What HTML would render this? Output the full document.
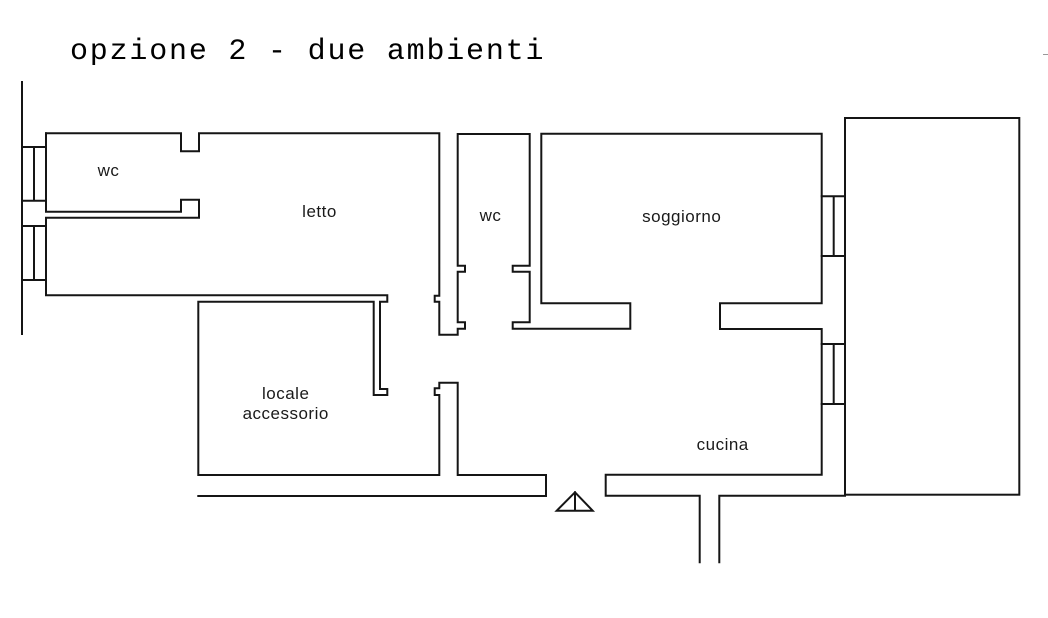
<!DOCTYPE html>
<html>
<head>
<meta charset="utf-8">
<style>
  html, body { margin: 0; padding: 0; background: #fff; }
  body { width: 1048px; height: 618px; overflow: hidden; }
  svg { display: block; }
  .w { fill: none; stroke: #151515; stroke-width: 2; stroke-linejoin: miter; stroke-linecap: square; }
  .lbl { font-family: "Liberation Sans", sans-serif; font-size: 17px; fill: #1a1a1a; text-anchor: middle; letter-spacing: 0.5px; }
  .title { font-family: "Liberation Mono", monospace; font-size: 30px; fill: #000; letter-spacing: 1.8px; }
</style>
</head>
<body>
<svg width="1048" height="618" viewBox="0 0 1048 618" xmlns="http://www.w3.org/2000/svg">
  <rect x="0" y="0" width="1048" height="618" fill="#fff"/>

  <text class="title" x="70" y="59">opzione 2 - due ambienti</text>

  <!-- small mark top right -->
  <line x1="1043" y1="54.5" x2="1048" y2="54.5" stroke="#999" stroke-width="1"/>

  <!-- left exterior line -->
  <path class="w" d="M22,82 V334"/>

  <!-- left windows -->
  <path class="w" d="M22,147 H46 M22,200.7 H46 M34,147 V200.7"/>
  <path class="w" d="M22,226 H46 M22,280 H46 M34,226 V280"/>

  <!-- wc / letto / locale accessorio outline -->
  <path class="w" d="M46,133.3 V211.7 H181 V199.7 H199 V217.7 H46 V295.3 H387.3 V301.7 H380 V389 H387.3 V395 H373.7 V301.7 H198.3 V475 H439.3 V395 H434.7 V388.3 H439.3 V382.7 H457.7 V475 H546 V496 H198.3"/>

  <!-- top walls, wc, soggiorno, cucina -->
  <path class="w" d="M46,133.3 H181 V151.3 H199 V133.3 H439.3 V295.7 H434.7 V301.7 H439.3 V334.7 H457.7 V328.7 H465 V322.3 H457.7 V271.7 H465 V265.7 H457.7 V134 H529.7 V265.7 H512.7 V271.7 H529.7 V322.3 H512.7 V328.7 H630.3 V303.3 H541.3 V133.7 H821.7 V303.3 H720 V329 H821.7 V474.7 H605.7 V495.7 H699.7 V562.3"/>
  <path class="w" d="M719.3,562.3 V495.7 H845"/>

  <!-- right windows -->
  <path class="w" d="M821.7,196.3 H845 M821.7,256 H845 M833.7,196.3 V256"/>
  <path class="w" d="M821.7,344 H845 M821.7,404 H845 M833.7,344 V404"/>

  <!-- big right rectangle -->
  <rect class="w" x="845" y="118" width="174.3" height="376.7"/>

  <!-- entrance marker -->
  <path class="w" d="M556.7,510.7 H592.7 L575,492.3 Z M575,492.3 V510.7" stroke-linecap="butt"/>

  <!-- labels -->
  <text class="lbl" x="108.5" y="176">wc</text>
  <text class="lbl" x="319.5" y="217">letto</text>
  <text class="lbl" x="490.5" y="221">wc</text>
  <text class="lbl" x="681.7" y="222">soggiorno</text>
  <text class="lbl" x="285.7" y="399">locale</text>
  <text class="lbl" x="285.7" y="419">accessorio</text>
  <text class="lbl" x="722.7" y="450">cucina</text>
</svg>
</body>
</html>
